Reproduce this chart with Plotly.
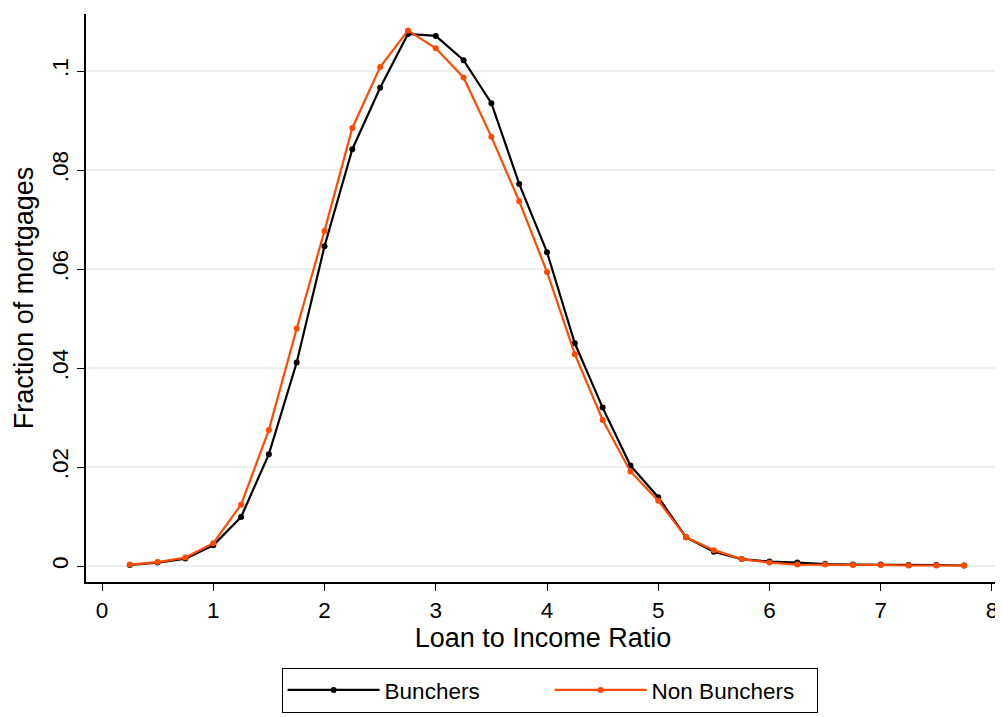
import plotly.graph_objects as go

lti = [0.25, 0.5, 0.75, 1.0, 1.25, 1.5, 1.75, 2.0, 2.25, 2.5, 2.75, 3.0, 3.25, 3.5, 3.75, 4.0,
       4.25, 4.5, 4.75, 5.0, 5.25, 5.5, 5.75, 6.0, 6.25, 6.5, 6.75, 7.0, 7.25, 7.5, 7.75]

bunchers = [0.0002, 0.0007, 0.0015, 0.0042, 0.0099, 0.0226, 0.0411, 0.0646, 0.0842, 0.0966,
            0.1075, 0.1071, 0.1022, 0.0935, 0.0772, 0.0634, 0.0450, 0.0320, 0.0203, 0.0139,
            0.0058, 0.0029, 0.0014, 0.0009, 0.0007, 0.0004, 0.0003, 0.0003, 0.0002, 0.0002, 0.0001]

non_bunchers = [0.0003, 0.0008, 0.0017, 0.0046, 0.0124, 0.0275, 0.0480, 0.0677, 0.0885, 0.1008,
                0.1082, 0.1046, 0.0987, 0.0867, 0.0737, 0.0594, 0.0428, 0.0295, 0.0191, 0.0132,
                0.0058, 0.0032, 0.0014, 0.0007, 0.0003, 0.0003, 0.0002, 0.0002, 0.0001, 0.0001, 0.0001]

x_ticks = [0, 1, 2, 3, 4, 5, 6, 7, 8]
y_ticks = [0, 0.02, 0.04, 0.06, 0.08, 0.1]
y_ticklabels = ["0", ".02", ".04", ".06", ".08", ".1"]

font = "Liberation Sans, Arial, sans-serif"

fig = go.Figure()
fig.add_trace(go.Scatter(x=lti, y=bunchers, mode="lines+markers", name="Bunchers",
                         line=dict(color="black", width=2.2),
                         marker=dict(color="black", size=6)))
fig.add_trace(go.Scatter(x=lti, y=non_bunchers, mode="lines+markers", name="Non Bunchers",
                         line=dict(color="#FF4A00", width=2.2),
                         marker=dict(color="#FF4A00", size=6)))

# The page body has an 8px default margin, so the figure is 8px smaller than the window
fig.update_layout(
    width=995, height=709,
    margin=dict(l=78, r=3, t=6, b=135, autoexpand=False),
    paper_bgcolor="white", plot_bgcolor="white",
    font=dict(family=font, size=22.5, color="black"),
    showlegend=True,
    legend=dict(orientation="h", x=0.214, xanchor="left", y=-0.151, yanchor="top",
                bordercolor="black", borderwidth=1, font=dict(size=22.5),
                itemwidth=92, entrywidth=160, entrywidthmode="pixels"),
)
fig.update_xaxes(
    range=[-0.144, 8.072], tickvals=x_ticks, ticks="outside", ticklen=7, tickwidth=1,
    tickcolor="black", showline=True, linecolor="black", linewidth=1.5, showgrid=False,
    zeroline=False, automargin=False, title=dict(text="Loan to Income Ratio", standoff=6),
)
fig.update_yaxes(
    range=[-0.00323, 0.11152], tickvals=y_ticks, ticktext=y_ticklabels, tickangle=-90,
    ticks="outside", ticklen=7, tickwidth=1, tickcolor="black", showline=True,
    linecolor="black", linewidth=1.5, showgrid=True, gridcolor="#E8F0F2", gridwidth=1.5,
    zeroline=False, automargin=False, title=dict(text="Fraction of mortgages", standoff=7),
)

fig.write_html("out.html")
